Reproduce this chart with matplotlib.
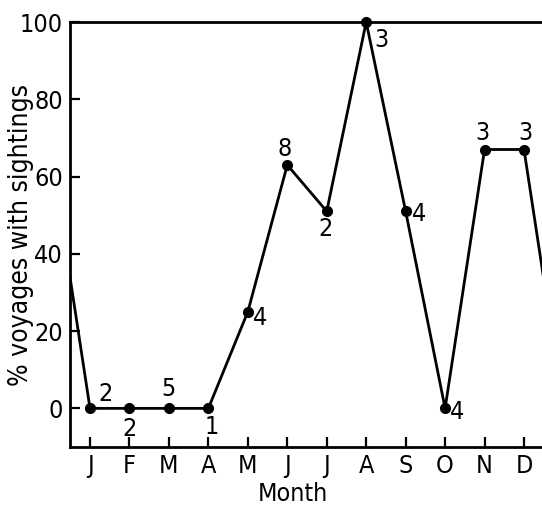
import matplotlib
matplotlib.use("Agg")
import matplotlib.pyplot as plt
from matplotlib import font_manager
from matplotlib.font_manager import FontProperties

# Data
months = ["J", "F", "M", "A", "M", "J", "J", "A", "S", "O", "N", "D"]
pct = [0, 0, 0, 0, 25, 63, 51, 100, 51, 0, 67, 67]
n_voyages = ["2", "2", "5", "1", "4", "8", "2", "3", "4", "4", "3", "3"]
# wrap-around values (previous December, next January)
prev_dec = 67
next_jan = 0

# label offsets in pixels (dx, dy) relative to each point
label_offsets = [(15, 14), (0, -21), (0, 19), (3, -19), (12, -6), (-3, 16),
                 (-1, -18), (15, -18), (13, -3), (12, -4), (-2, 16), (1, 16)]

# look for a condensed sans font
cands = []
for f in font_manager.fontManager.ttflist:
    nm = f.name
    if 'Mono' in nm or 'Serif' in nm or 'CJK' in nm:
        continue
    if f.style != 'normal' or f.weight not in (400, 'normal', 'regular'):
        continue
    st = str(f.stretch)
    if 'Condensed' in nm or 'Narrow' in nm or st in ('condensed', 'semi-condensed', '500', '375', '300'):
        cands.append(f)
if cands:
    fp_path = cands[0].fname
    fs = 17
else:
    fp_path = None
    fs = 15

def fprop(size):
    if fp_path:
        return FontProperties(fname=fp_path, size=size)
    return FontProperties(family=['Liberation Sans', 'DejaVu Sans'], size=size)

fig = plt.figure(figsize=(5.42, 5.08), dpi=100)
ax = fig.add_axes([70/542, 1-447/508, 1-70/542, (447-22)/508])

x = list(range(0, 14))
y = [prev_dec] + pct + [next_jan]
ax.plot(x, y, color='black', lw=2.0, clip_on=True, zorder=2)
ax.plot(range(1, 13), pct, 'o', color='black', ms=7, zorder=3, clip_on=False)

for i, (v, lab) in enumerate(zip(pct, n_voyages)):
    dx, dy = label_offsets[i]
    ax.annotate(lab, (i + 1, v), xytext=(dx, dy), textcoords='offset pixels',
                ha='center', va='center', fontproperties=fprop(fs + 1),
                annotation_clip=False)

ax.set_xlim(0.493, 12.456)
ax.set_ylim(-10, 100)
ax.set_xticks(range(1, 13))
ax.set_xticklabels(months)
ax.set_yticks([0, 20, 40, 60, 80, 100])
ax.tick_params(direction='in', length=7, width=1.6, pad=5)
for lab in ax.get_xticklabels() + ax.get_yticklabels():
    lab.set_fontproperties(fprop(fs + 1))
ax.spines['right'].set_visible(False)
for s in ['left', 'top', 'bottom']:
    ax.spines[s].set_linewidth(2.0)

ax.set_xlabel("Month", fontproperties=fprop(fs + 1))
ax.set_ylabel("% voyages with sightings", fontproperties=fprop(fs + 2))
ax.xaxis.set_label_coords((293 - 70) / 472, -(482 - 447) / 425)
ax.yaxis.set_label_coords((34 - 70) / 472, (447 - 235) / 425)

fig.savefig("out.png", dpi=100)
